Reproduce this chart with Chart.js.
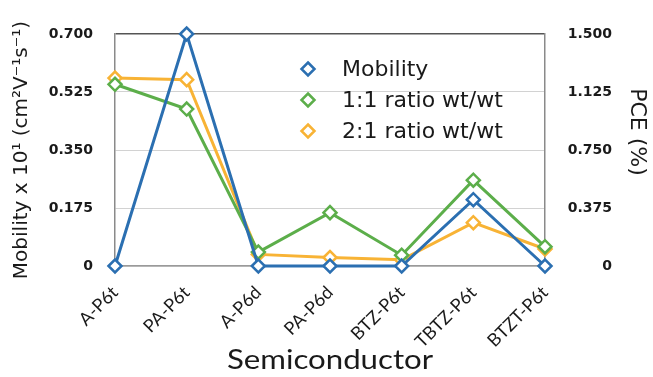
<!DOCTYPE html>
<html>
<head>
<meta charset="utf-8">
<script src="https://cdn.jsdelivr.net/npm/chart.js@4/dist/chart.umd.min.js"></script>
<style>
  html, body { margin: 0; padding: 0; background: #ffffff; }
  #wrap { width: 653px; height: 377px; }
</style>
</head>
<body>
<div id="wrap"><canvas id="c" width="653" height="377"></canvas></div>
<script>
// Semiconductors on the category axis
const categories = ['A-P6t', 'PA-P6t', 'A-P6d', 'PA-P6d', 'BTZ-P6t', 'TBTZ-P6t', 'BTZT-P6t'];

// Hole mobility (x 10^1 cm^2 V^-1 s^-1), left axis
const mobility = [0, 0.700, 0, 0, 0, 0.200, 0];
// Power conversion efficiency (%), right axis
const pce11 = [1.175, 1.015, 0.090, 0.345, 0.070, 0.555, 0.125];
const pce21 = [1.215, 1.205, 0.075, 0.055, 0.040, 0.280, 0.110];

const seriesNames = ['Mobility', '1:1 ratio wt/wt', '2:1 ratio wt/wt'];

// Tick values of both axes
const mobilityTicks = [0, 0.175, 0.350, 0.525, 0.700];
const pceTicks = [0, 0.375, 0.750, 1.125, 1.500];

const BLUE = '#2b6fb1';
const GREEN = '#5cae4a';
const ORANGE = '#f8b335';

function series(label, data, color, axis) {
  return {
    label, data, yAxisID: axis,
    borderColor: color, backgroundColor: '#ffffff',
    borderWidth: 3,
    pointStyle: 'rectRot', pointRadius: 6.5, pointBorderWidth: 2.5,
    pointBackgroundColor: '#ffffff', pointBorderColor: color,
    tension: 0, clip: false
  };
}

// In-plot legend, bottom axis caption and right axis caption
const overlay = {
  id: 'overlay',
  afterDraw(chart) {
    const ctx = chart.ctx;
    const a = chart.chartArea;
    ctx.save();
    const mx = a.left + 193;
    const tx = a.left + 227;
    chart.data.datasets.forEach((ds, i) => {
      const y = a.top + 35 + i * 31;
      ctx.beginPath();
      const r = 6.5;
      ctx.moveTo(mx, y - r); ctx.lineTo(mx + r, y); ctx.lineTo(mx, y + r); ctx.lineTo(mx - r, y); ctx.closePath();
      ctx.fillStyle = '#ffffff'; ctx.fill();
      ctx.lineWidth = 2.5; ctx.strokeStyle = ds.borderColor; ctx.stroke();
      ctx.fillStyle = '#1a1a1a';
      ctx.font = '22px "DejaVu Sans"';
      ctx.textAlign = 'left'; ctx.textBaseline = 'middle';
      ctx.fillText(ds.label, tx, y + 1);
    });

    // x axis caption, centred under the plot
    ctx.save();
    ctx.translate((a.left + a.right) / 2, 361);
    ctx.scale(1.2, 1);
    ctx.font = '26px Lato';
    ctx.fillStyle = '#1a1a1a';
    ctx.textAlign = 'center'; ctx.textBaseline = 'middle';
    ctx.fillText('Semiconductor', 0, 0);
    ctx.restore();

    // right axis caption, reading top to bottom
    ctx.save();
    ctx.translate(637, 132);
    ctx.rotate(Math.PI / 2);
    ctx.font = '22px "DejaVu Sans"';
    ctx.fillStyle = '#1a1a1a';
    ctx.textAlign = 'center'; ctx.textBaseline = 'middle';
    ctx.fillText('PCE (%)', 0, 0);
    ctx.restore();

    ctx.restore();
  }
};

new Chart(document.getElementById('c'), {
  type: 'line',
  data: {
    labels: categories,
    datasets: [
      series(seriesNames[0], mobility, BLUE, 'yL'),
      series(seriesNames[1], pce11, GREEN, 'yR'),
      series(seriesNames[2], pce21, ORANGE, 'yR')
    ]
  },
  options: {
    responsive: false,
    animation: false,
    layout: { padding: { top: 34, left: 0, right: 41, bottom: 0 } },
    plugins: { legend: { display: false }, tooltip: { enabled: false } },
    scales: {
      x: {
        offset: false,
        afterFit(s) { s.height = 111; },
        grid: { display: false, drawTicks: false },
        border: { display: true, color: '#9a9a9a', width: 1.5 },
        ticks: {
          minRotation: 45, maxRotation: 45, padding: 16,
          color: '#1a1a1a', font: { family: 'Lato', size: 18 }
        }
      },
      yL: {
        position: 'left', min: 0, max: 0.7,
        afterFit(s) { s.width = 115; },
        afterBuildTicks(s) { s.ticks = mobilityTicks.map(v => ({ value: v })); },
        grid: {
          drawTicks: false,
          color: c => c.tick && c.tick.value === 0.7 ? '#555555' : '#d2d2d2',
          lineWidth: c => c.tick && c.tick.value === 0.7 ? 1.5 : 1
        },
        border: { display: true, color: '#8a8a8a', width: 1.5 },
        ticks: {
          padding: 22, color: '#1a1a1a',
          font: { family: 'DejaVu Sans', size: 14, weight: 'bold' },
          callback: v => v === 0 ? '0' : Number(v).toFixed(3)
        },
        title: {
          display: true, text: 'Mobility x 10¹ (cm²V⁻¹s⁻¹)',
          color: '#1a1a1a', font: { family: 'DejaVu Sans', size: 20 },
          padding: { top: 10, bottom: 0 }
        }
      },
      yR: {
        position: 'right', min: 0, max: 1.5,
        afterFit(s) { s.width = 67; },
        afterBuildTicks(s) { s.ticks = pceTicks.map(v => ({ value: v })); },
        grid: { display: false, drawTicks: false },
        border: { display: true, color: '#8a8a8a', width: 1.5 },
        ticks: {
          padding: 20, crossAlign: 'far', color: '#1a1a1a',
          font: { family: 'DejaVu Sans', size: 14, weight: 'bold' },
          callback: v => v === 0 ? '0' : Number(v).toFixed(3)
        },
        title: { display: false }
      }
    }
  },
  plugins: [overlay]
});
</script>
</body>
</html>
